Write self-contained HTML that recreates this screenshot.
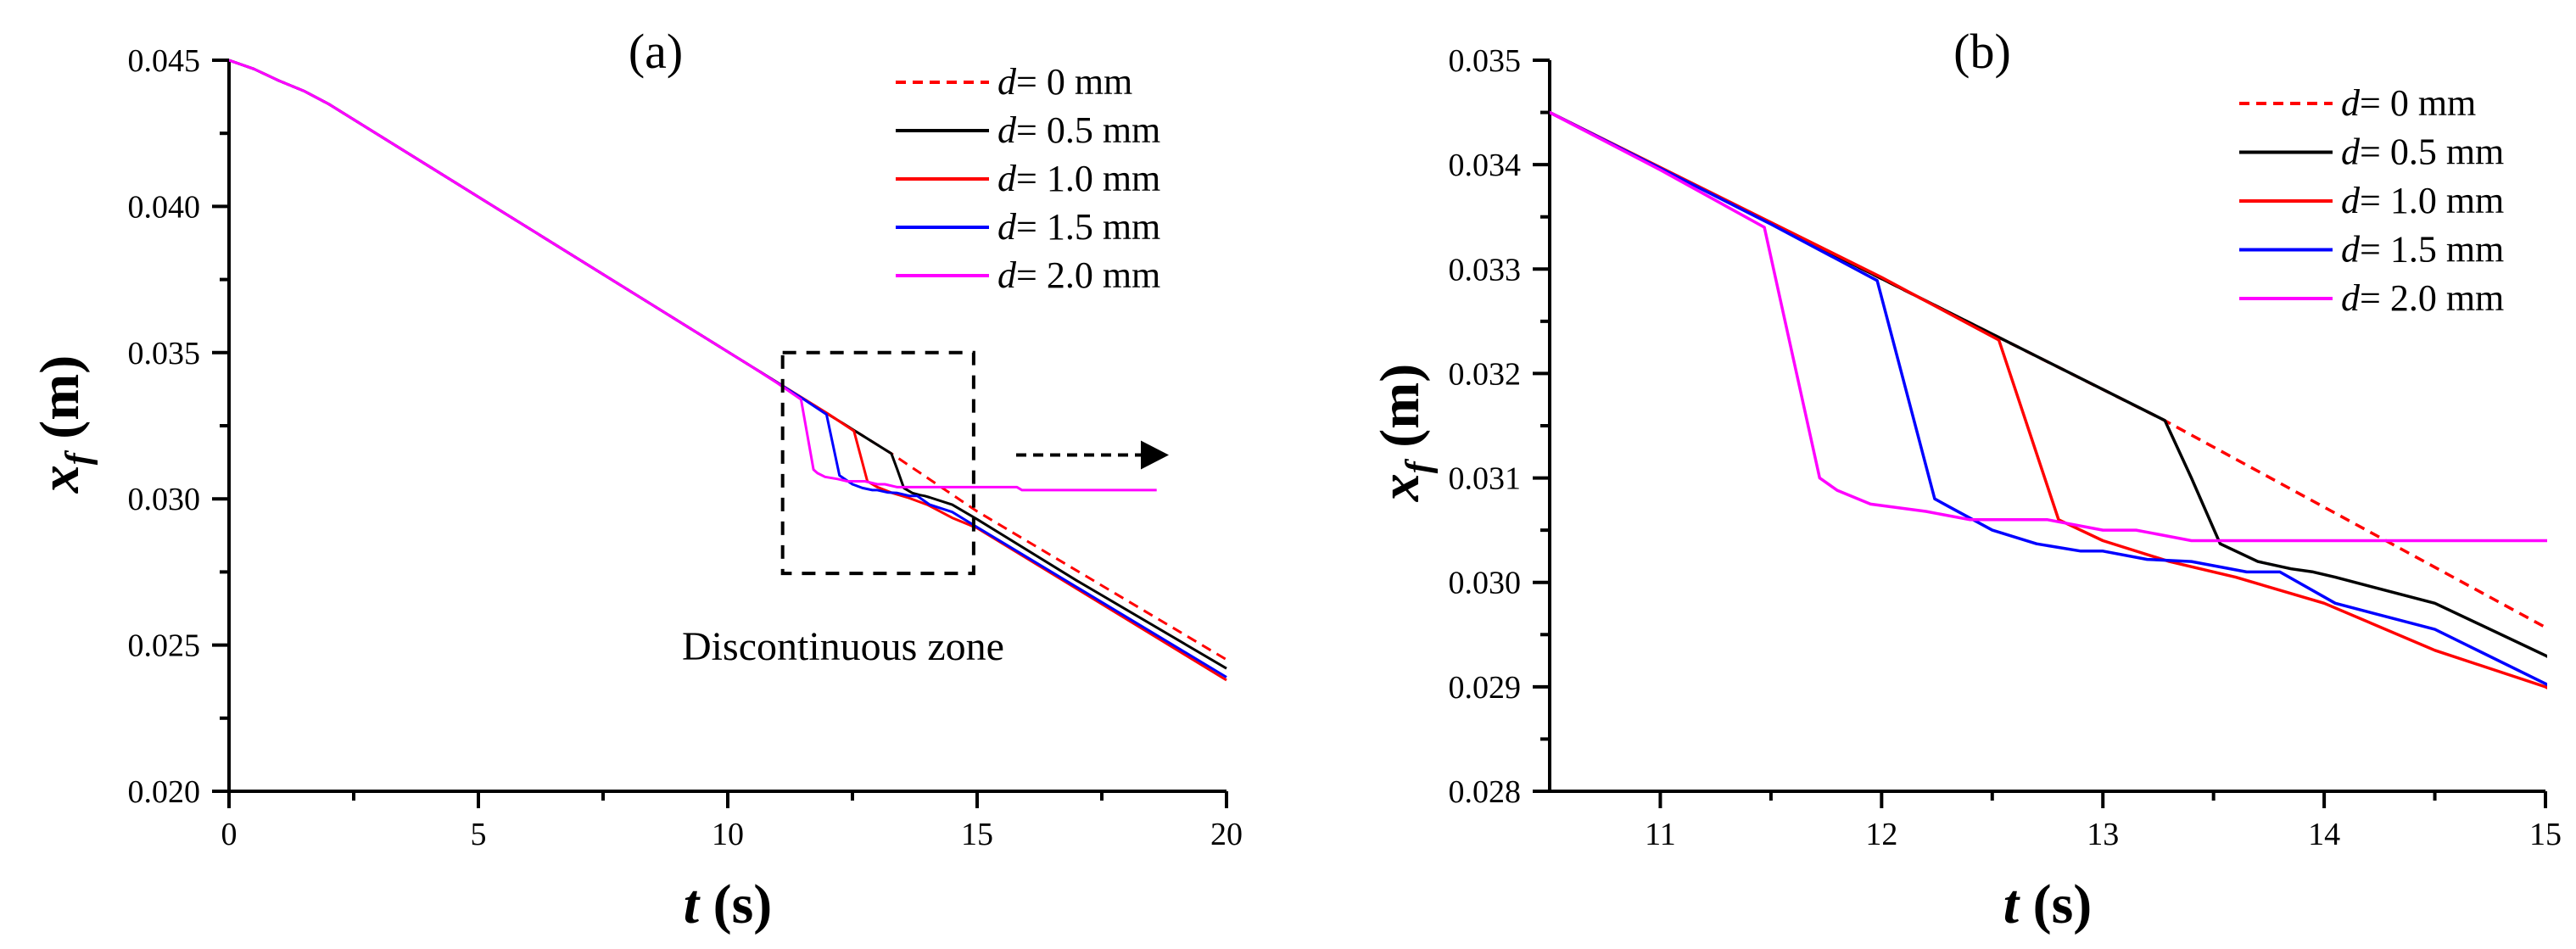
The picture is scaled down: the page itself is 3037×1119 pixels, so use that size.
<!DOCTYPE html>
<html><head><meta charset="utf-8"><style>
html,body{margin:0;padding:0;background:#fff;overflow:hidden;width:3037px;height:1119px;}
svg{display:block;}
text{font-family:"Liberation Serif","Times New Roman",serif;}
</style></head><body>
<svg id="c" width="3037" height="1119" viewBox="0 0 3037 1119" xmlns="http://www.w3.org/2000/svg" font-family="Liberation Serif, serif">
<defs>
<clipPath id="clipA"><rect x="270" y="40" width="1190" height="893"/></clipPath>
<clipPath id="clipB"><rect x="1827" y="40" width="1176" height="893"/></clipPath>
</defs>
<g id="pa"></g>
<g id="pb"></g>
</svg>
<script>
const seriesNames = ["d0","d05","d10","d15","d20"];
const seriesLabels = ["0 mm","0.5 mm","1.0 mm","1.5 mm","2.0 mm"];
const seriesColors = ["#ff0000","#000000","#ff0000","#0000ff","#ff00ff"];
const d0_t = [0,0.5,1,1.5,2,10.5,13.27,15,20];
const d0_x = [0.045,0.0447,0.0443,0.04395,0.0435,0.0345,0.03156,0.02957,0.0245];
const d05_t = [0,0.5,1,1.5,2,10.5,13.28,13.4,13.53,13.7,13.85,13.95,14.05,14.5,15,17,20];
const d05_x = [0.045,0.0447,0.0443,0.04395,0.0435,0.0345,0.03155,0.0310,0.03037,0.0302,0.03013,0.0301,0.03005,0.0298,0.0293,0.0272,0.0242];
const d10_t = [0,0.5,1,1.5,2,10.5,12.0,12.53,12.8,13.0,13.3,13.6,14.0,14.5,15,20];
const d10_x = [0.045,0.0447,0.0443,0.04395,0.0435,0.0345,0.03292,0.03232,0.0306,0.0304,0.0302,0.03005,0.0298,0.02935,0.0290,0.0238];
const d15_t = [0,0.5,1,1.5,2,10.5,11.5,11.98,12.24,12.3,12.5,12.7,12.9,13.0,13.2,13.4,13.65,13.8,14.05,14.5,15,20];
const d15_x = [0.045,0.0447,0.0443,0.04395,0.0435,0.0345,0.03343,0.03289,0.0308,0.03073,0.0305,0.03037,0.0303,0.0303,0.03022,0.0302,0.0301,0.0301,0.0298,0.02955,0.02903,0.0239];
const d20_t = [0,0.5,1,1.5,2,10.5,11.0,11.47,11.72,11.8,11.95,12.2,12.4,12.75,13.0,13.15,13.4,15.8,15.9,18.6];
const d20_x = [0.045,0.0447,0.0443,0.04395,0.0435,0.0345,0.03395,0.0334,0.0310,0.03088,0.03075,0.03068,0.0306,0.0306,0.0305,0.0305,0.0304,0.0304,0.0303,0.0303];
const xTicksA = ["0","5","10","15","20"];
const yTicksA = ["0.020","0.025","0.030","0.035","0.040","0.045"];
const xTicksB = ["11","12","13","14","15"];
const yTicksB = ["0.028","0.029","0.030","0.031","0.032","0.033","0.034","0.035"];
const allT = [d0_t,d05_t,d10_t,d15_t,d20_t];
const allX = [d0_x,d05_x,d10_x,d15_x,d20_x];

const NS="http://www.w3.org/2000/svg";
const FF="Liberation Serif, serif";
function mk(tag,parent,attrs){const e=document.createElementNS(NS,tag);for(const k in attrs)e.setAttribute(k,attrs[k]);if(tag==='text')e.setAttribute('font-family',FF);parent.appendChild(e);return e;}

function panel(g,cfg){
  const sx=t=>cfg.x0+(t-cfg.tmin)/(cfg.tmax-cfg.tmin)*(cfg.x1-cfg.x0);
  const sy=v=>cfg.yb-(v-cfg.vmin)/(cfg.vmax-cfg.vmin)*(cfg.yb-cfg.yt);
  const ax=mk('path',g,{d:`M${cfg.x0},${cfg.yt} V${cfg.yb} H${cfg.x1}`,fill:'none',stroke:'#000','stroke-width':4});
  
  
  cfg.yTicks.forEach((lab,i)=>{
    const v=parseFloat(lab);const y=sy(v);
    const tk=mk('line',g,{x1:cfg.x0-20,x2:cfg.x0,y1:y,y2:y,stroke:'#000','stroke-width':4});
    
    
    const tx=mk('text',g,{x:cfg.x0-34,y:y+13,'text-anchor':'end','font-size':38});
    tx.textContent=lab;
    
    
    if(i<cfg.yTicks.length-1){const ym=sy(v+cfg.yStep/2);
      const mt=mk('line',g,{x1:cfg.x0-11,x2:cfg.x0,y1:ym,y2:ym,stroke:'#000','stroke-width':4});
      
      }
  });
  cfg.xTicks.forEach((lab,i)=>{
    const t=parseFloat(lab);const x=sx(t);
    const tk=mk('line',g,{x1:x,x2:x,y1:cfg.yb,y2:cfg.yb+20,stroke:'#000','stroke-width':4});
    
    
    const tx=mk('text',g,{x:x,y:cfg.yb+63,'text-anchor':'middle','font-size':38});
    tx.textContent=lab;
    
    
    const tm=t-cfg.xStep/2;
    if(tm>cfg.tmin+1e-9){const xm=sx(tm);
      const mt=mk('line',g,{x1:xm,x2:xm,y1:cfg.yb,y2:cfg.yb+11,stroke:'#000','stroke-width':4});
      
      }
  });
  const sg=mk('g',g,{'clip-path':`url(#${cfg.clip})`});
  
  
  for(let s=0;s<allT.length;s++){
    const ts=allT[s],xs=allX[s];
    const d=ts.map((t,i)=>(i?'L':'M')+sx(t).toFixed(1)+','+sy(xs[i]).toFixed(1)).join(' ');
    const p=mk('path',sg,{d:d,fill:'none',stroke:seriesColors[s],'stroke-width':cfg.lw,'stroke-linejoin':'round'});
    if(s===0)p.setAttribute('stroke-dasharray','12,8');
    
    
  }
  const lg=mk('g',g,{});
  
  
  seriesNames.forEach((n,i)=>{
    const y=cfg.legY+i*cfg.legDy;
    const ln=mk('line',lg,{x1:cfg.legX,x2:cfg.legX+110,y1:y,y2:y,stroke:seriesColors[i],'stroke-width':4});
    if(i===0)ln.setAttribute('stroke-dasharray','12,8');
    
    
    const tx=mk('text',lg,{x:cfg.legX+120,y:y+14,'font-size':44});
    tx.innerHTML='<tspan font-style="italic">d</tspan>= '+seriesLabels[i];
    
    
  });
  const pl=mk('text',g,{x:cfg.letX,y:80,'text-anchor':'middle','font-size':58});
  pl.textContent=cfg.letter;
  
  
  const xt=mk('text',g,{x:(cfg.x0+cfg.x1)/2,y:1088,'text-anchor':'middle','font-size':66,'font-weight':'bold'});
  xt.innerHTML='<tspan font-style="italic">t</tspan> (s)';
  
  
  const yt=mk('text',g,{x:0,y:0,'text-anchor':'middle','font-size':66,'font-weight':'bold',transform:`translate(${cfg.ytX},${cfg.ytY}) rotate(-90)`});
  yt.innerHTML='<tspan font-style="italic">x</tspan><tspan font-style="italic" font-size="42" dy="14">f</tspan><tspan dy="-14"> (m)</tspan>';
  
  
  return {sx,sy};
}

const A=panel(document.getElementById('pa'),{x0:270,x1:1446,yt:71,yb:933,tmin:0,tmax:20,vmin:0.020,vmax:0.045,
  xTicks:xTicksA,yTicks:yTicksA,xStep:5,yStep:0.005,clip:'clipA',lw:3,legX:1056,legY:97,legDy:57,letX:773,letter:'(a)',ytX:92,ytY:500});
panel(document.getElementById('pb'),{x0:1827,x1:3001,yt:71,yb:933,tmin:10.5,tmax:15,vmin:0.028,vmax:0.035,
  xTicks:xTicksB,yTicks:yTicksB,xStep:1,yStep:0.001,clip:'clipB',lw:3.5,legX:2640,legY:122,legDy:57.5,letX:2337,letter:'(b)',ytX:1672,ytY:510});

const ga=document.getElementById('pa');
const box=mk('rect',ga,{x:A.sx(11.1),y:A.sy(0.035),width:A.sx(14.93)-A.sx(11.1),height:A.sy(0.02745)-A.sy(0.035),fill:'none',stroke:'#000','stroke-width':4,'stroke-dasharray':'16,12'});


const ar=mk('line',ga,{x1:1198,x2:1346,y1:A.sy(0.0315),y2:A.sy(0.0315),stroke:'#000','stroke-width':4,'stroke-dasharray':'12,8'});


const ah=mk('polygon',ga,{points:`1345,${A.sy(0.0315)-17} 1378,${A.sy(0.0315)} 1345,${A.sy(0.0315)+17}`,fill:'#000'});


const dz=mk('text',ga,{x:994,y:778,'text-anchor':'middle','font-size':48});
dz.textContent='Discontinuous zone';


</script>
</body></html>
